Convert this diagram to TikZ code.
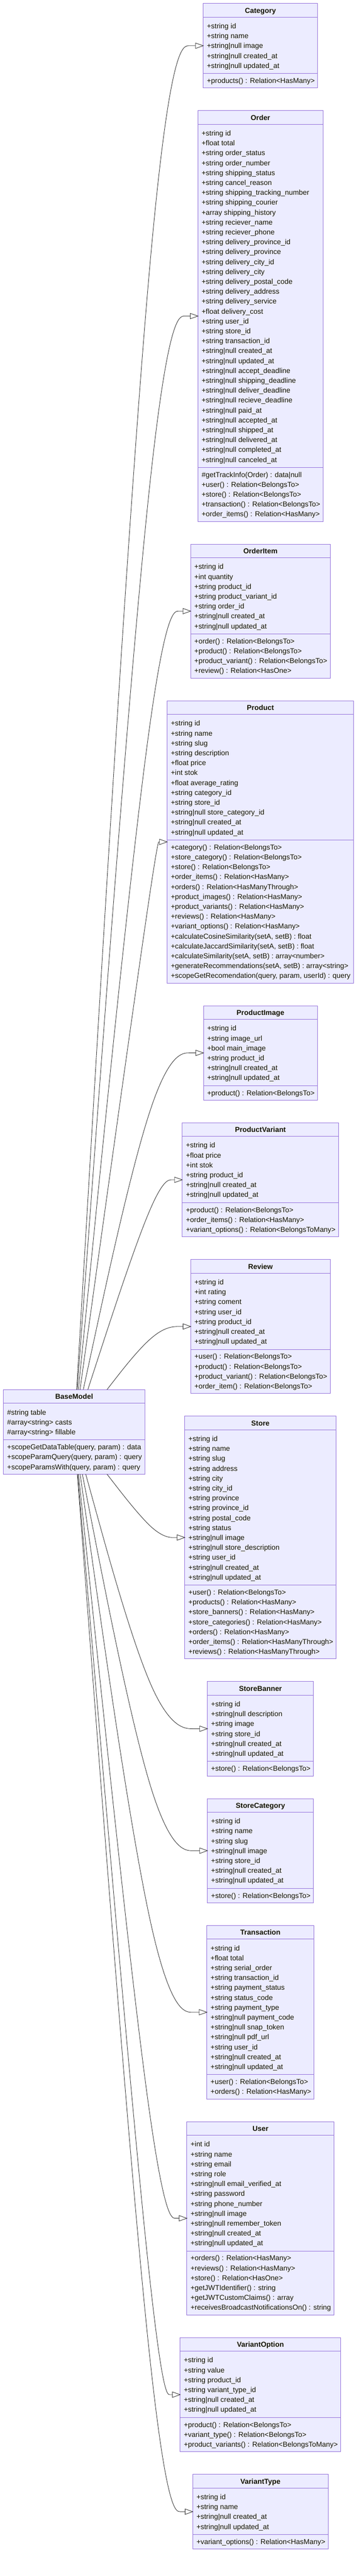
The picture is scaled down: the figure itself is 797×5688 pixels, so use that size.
\documentclass[tikz,border=0pt]{standalone}
\usepackage{fontspec}
\setmainfont{Liberation Sans}
\usetikzlibrary{calc}
\definecolor{boxfill}{HTML}{ECECFF}
\definecolor{boxline}{HTML}{9370DB}
\definecolor{txtc}{HTML}{131300}
\definecolor{edgec}{HTML}{333333}
\tikzset{
  classbox/.style={rectangle, draw=boxline, fill=boxfill, line width=1pt, inner sep=0pt, outer sep=0pt},
  classline/.style={draw=boxline, line width=1pt},
  titletext/.style={font=\fontsize{15.8pt}{19pt}\selectfont\bfseries, text=txtc, inner sep=0pt, text height=11.5pt, text depth=0pt},
  membertext/.style={font=\fontsize{15.8pt}{19pt}\selectfont, text=txtc, inner sep=0pt, text height=11.5pt, text depth=0pt, anchor=west},
  edge/.style={draw=edgec, line width=1pt},
  inhtri/.style={draw=edgec, fill=white, line width=1pt, line join=miter},
}
% #1 name, #2 centre x, #3 top y, #4 width, #5 no. attrs, #6 no. methods, #7 title, #8 attrs, #9 methods
\newcommand\umlclass[9]{%
  \pgfmathsetmacro\boxhgt{55.52+21.84*(#5+#6)}%
  \pgfmathsetmacro\divrel{45.26+21.84*#5}%
  \node[classbox, minimum width=#4pt, minimum height=\boxhgt pt, anchor=north] (#1) at (#2,#3) {};
  \draw[classline] ($(#1.north west)+(0,30)$) -- ($(#1.north east)+(0,30)$);
  \draw[classline] ($(#1.north west)+(0,\divrel)$) -- ($(#1.north east)+(0,\divrel)$);
  \node[titletext] at ($(#1.north)+(0,15.2)$) {#7};
  \foreach \mtext [count=\mi from 0] in {#8} {\node[membertext] at ($(#1.north west)+(8,49.7+21.84*\mi)$) {\mtext};}
  \foreach \mtext [count=\mi from 0] in {#9} {\node[membertext] at ($(#1.north west)+(8,\divrel+15.8+21.84*\mi)$) {\mtext};}
}
% inheritance connector from BaseModel (base) to a class box, d3 curveBasis through A, B, C
\newcommand\inhedge[1]{%
  \coordinate (B#1) at (#1.west -| bx);
  \coordinate (C#1) at ($(#1.west)+(-17,0)$);
  \path (B#1) -- (base) coordinate[pos=1] (A#1);
  \draw[edge] (A#1) -- ($0.8333*(A#1)+0.1667*(B#1)$)
    .. controls ($0.6667*(A#1)+0.3333*(B#1)$) and ($0.3333*(A#1)+0.6667*(B#1)$)
    .. ($0.1667*(A#1)+0.6667*(B#1)+0.1667*(C#1)$)
    .. controls ($0.6667*(B#1)+0.3333*(C#1)$) and ($0.3333*(B#1)+0.6667*(C#1)$)
    .. ($0.1667*(B#1)+0.8333*(C#1)$) -- (C#1);
  \draw[inhtri] ($(#1.west)+(-17,-6)$) -- ($(#1.west)+(-17,6)$) -- (#1.west) -- cycle;
}
\begin{document}
\begin{tikzpicture}[x=1pt,y=-1pt]
\fill[white] (0,0) rectangle (797,5688);
\useasboundingbox (0,0) rectangle (797,5688);
\coordinate (bx) at (345,0);

\umlclass{category}{575.3}{7.7}{252.7}{5}{1}{Category}
 {+string id, +string name, +string|null image, +string|null created\_at, +string|null updated\_at}
 {+products() : Relation<HasMany>}

\umlclass{order}{575.3}{244.26}{276}{34}{5}{Order}
 {+string id, +float total, +string order\_status, +string order\_number, +string shipping\_status, +string cancel\_reason, +string shipping\_tracking\_number, +string shipping\_courier, +array shipping\_history, +string reciever\_name, +string reciever\_phone, +string delivery\_province\_id, +string delivery\_province, +string delivery\_city\_id, +string delivery\_city, +string delivery\_postal\_code, +string delivery\_address, +string delivery\_service, +float delivery\_cost, +string user\_id, +string store\_id, +string transaction\_id, +string|null created\_at, +string|null updated\_at, +string|null accept\_deadline, +string|null shipping\_deadline, +string|null deliver\_deadline, +string|null recieve\_deadline, +string|null paid\_at, +string|null accepted\_at, +string|null shipped\_at, +string|null delivered\_at, +string|null completed\_at, +string|null canceled\_at}
 {\#getTrackInfo(Order) : data|null, +user() : Relation<BelongsTo>, +store() : Relation<BelongsTo>, +transaction() : Relation<BelongsTo>, +order\_items() : Relation<HasMany>}

\umlclass{orderitem}{575.3}{1201.54}{308.3}{7}{4}{OrderItem}
 {+string id, +int quantity, +string product\_id, +string product\_variant\_id, +string order\_id, +string|null created\_at, +string|null updated\_at}
 {+order() : Relation<BelongsTo>, +product() : Relation<BelongsTo>, +product\_variant() : Relation<BelongsTo>, +review() : Relation<HasOne>}

\umlclass{product}{575.3}{1547.3}{412}{12}{14}{Product}
 {+string id, +string name, +string slug, +string description, +float price, +int stok, +float average\_rating, +string category\_id, +string store\_id, +string|null store\_category\_id, +string|null created\_at, +string|null updated\_at}
 {+category() : Relation<BelongsTo>, +store\_category() : Relation<BelongsTo>, +store() : Relation<BelongsTo>, +order\_items() : Relation<HasMany>, +orders() : Relation<HasManyThrough>, +product\_images() : Relation<HasMany>, +product\_variants() : Relation<HasMany>, +reviews() : Relation<HasMany>, +variant\_options() : Relation<HasMany>, {+calculateCosineSimilarity(setA, setB) : float}, {+calculateJaccardSimilarity(setA, setB) : float}, {+calculateSimilarity(setA, setB) : array<number>}, {+generateRecommendations(setA, setB) : array<string>}, {+scopeGetRecomendation(query, param, userId) : query}}

\umlclass{productimage}{575.3}{2220.66}{251.7}{6}{1}{ProductImage}
 {+string id, +string image\_url, +bool main\_image, +string product\_id, +string|null created\_at, +string|null updated\_at}
 {+product() : Relation<BelongsTo>}

\umlclass{productvariant}{575.3}{2479.06}{345.4}{6}{3}{ProductVariant}
 {+string id, +float price, +int stok, +string product\_id, +string|null created\_at, +string|null updated\_at}
 {+product() : Relation<BelongsTo>, +order\_items() : Relation<HasMany>, +variant\_options() : Relation<BelongsToMany>}

\umlclass{review}{575.3}{2781.14}{308}{7}{4}{Review}
 {+string id, +int rating, +string coment, +string user\_id, +string product\_id, +string|null created\_at, +string|null updated\_at}
 {+user() : Relation<BelongsTo>, +product() : Relation<BelongsTo>, +product\_variant() : Relation<BelongsTo>, +order\_item() : Relation<BelongsTo>}

\umlclass{store}{575.3}{3126.9}{334.3}{15}{7}{Store}
 {+string id, +string name, +string slug, +string address, +string city, +string city\_id, +string province, +string province\_id, +string postal\_code, +string status, +string|null image, +string|null store\_description, +string user\_id, +string|null created\_at, +string|null updated\_at}
 {+user() : Relation<BelongsTo>, +products() : Relation<HasMany>, +store\_banners() : Relation<HasMany>, +store\_categories() : Relation<HasMany>, +orders() : Relation<HasMany>, +order\_items() : Relation<HasManyThrough>, +reviews() : Relation<HasManyThrough>}

\umlclass{storebanner}{575.3}{3712.9}{234.3}{6}{1}{StoreBanner}
 {+string id, +string|null description, +string image, +string store\_id, +string|null created\_at, +string|null updated\_at}
 {+store() : Relation<BelongsTo>}

\umlclass{storecategory}{575.3}{3971.3}{234.3}{7}{1}{StoreCategory}
 {+string id, +string name, +string slug, +string|null image, +string store\_id, +string|null created\_at, +string|null updated\_at}
 {+store() : Relation<BelongsTo>}

\umlclass{transaction}{575.3}{4251.54}{236.6}{13}{2}{Transaction}
 {+string id, +float total, +string serial\_order, +string transaction\_id, +string payment\_status, +string status\_code, +string payment\_type, +string|null payment\_code, +string|null snap\_token, +string|null pdf\_url, +string user\_id, +string|null created\_at, +string|null updated\_at}
 {+user() : Relation<BelongsTo>, +orders() : Relation<HasMany>}

\umlclass{user}{575.3}{4684.66}{325}{11}{6}{User}
 {+int id, +string name, +string email, +string role, +string|null email\_verified\_at, +string password, +string phone\_number, +string|null image, +string|null remember\_token, +string|null created\_at, +string|null updated\_at}
 {+orders() : Relation<HasMany>, +reviews() : Relation<HasMany>, +store() : Relation<HasOne>, +getJWTIdentifier() : string, +getJWTCustomClaims() : array, +receivesBroadcastNotificationsOn() : string}

\umlclass{variantoption}{575.3}{5161.46}{354.6}{6}{3}{VariantOption}
 {+string id, +string value, +string product\_id, +string variant\_type\_id, +string|null created\_at, +string|null updated\_at}
 {+product() : Relation<BelongsTo>, +variant\_type() : Relation<BelongsTo>, +product\_variants() : Relation<BelongsToMany>}

\umlclass{varianttype}{575.3}{5463.54}{299}{4}{1}{VariantType}
 {+string id, +string name, +string|null created\_at, +string|null updated\_at}
 {+variant\_options() : Relation<HasMany>}

\umlclass{base}{163.85}{3068.4}{312.3}{3}{3}{BaseModel}
 {\#string table, \#array<string> casts, \#array<string> fillable}
 {{+scopeGetDataTable(query, param) : data}, {+scopeParamQuery(query, param) : query}, {+scopeParamsWith(query, param) : query}}

\inhedge{category}
\inhedge{order}
\inhedge{orderitem}
\inhedge{product}
\inhedge{productimage}
\inhedge{productvariant}
\inhedge{review}
\inhedge{store}
\inhedge{storebanner}
\inhedge{storecategory}
\inhedge{transaction}
\inhedge{user}
\inhedge{variantoption}
\inhedge{varianttype}
\end{tikzpicture}
\end{document}
